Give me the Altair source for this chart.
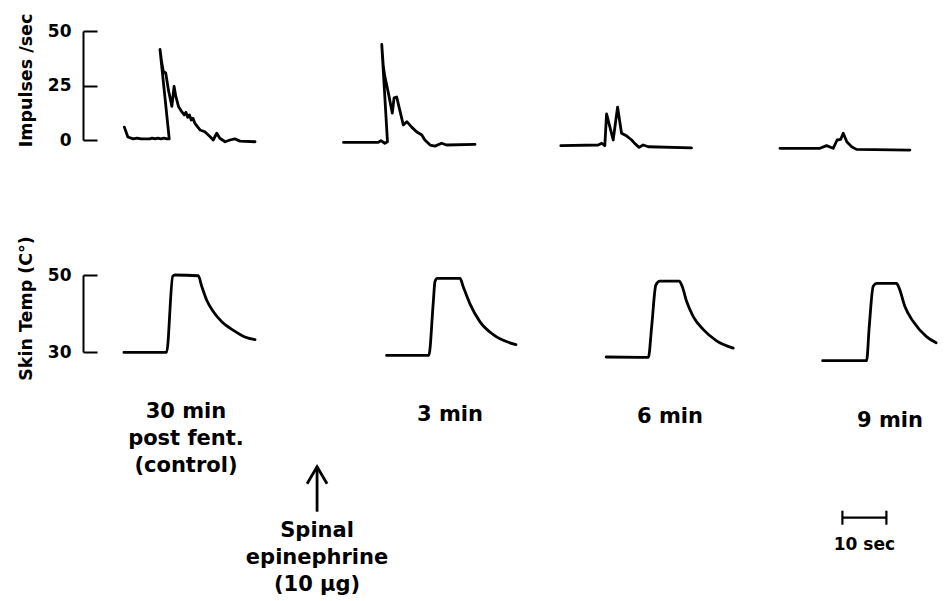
import altair as alt
import pandas as pd

FONT = "DejaVu Sans"

# ---------------- data ----------------
# Impulses/sec traces: time (s, along the recording) and value
imp1_t = [9.4, 10.2, 11.4, 12.3, 13.2, 15.2, 15.7, 16.4, 17.0, 17.7, 18.4, 19.1, 19.6,
          17.5, 17.9, 18.25, 18.8, 19.4, 20.2, 20.7, 21.1, 21.7, 22.4, 23.0, 23.4, 23.8, 24.2, 24.6, 25.0, 25.4, 25.7,
          26.6, 27.7, 28.9, 29.6, 30.4, 31.1, 32.3, 33.4, 34.5, 35.7, 39.1]
imp1_v = [5.9, 1.4, 0.5, 0.9, 0.5, 0.5, 0.9, 0.5, 0.9, 0.5, 0.9, 0.5, 0.5,
          41.6, 35.4, 31.5, 30.8, 23.1, 15.4, 24.6, 20.0, 15.4, 13.1, 11.5, 12.7, 10.4, 11.5, 9.2, 10.0, 7.8, 6.9,
          4.6, 3.8, 1.5, 0.0, 3.1, 0.8, -0.8, 0.0, 0.5, -0.5, -0.8]

imp2_t = [59.2, 67.1, 67.7, 68.6, 69.2, 67.9, 68.25, 68.6, 69.4, 70.3, 70.7, 71.3, 71.8,
          72.8, 73.6, 74.7, 75.8, 77.0, 77.7, 78.9, 80.0, 81.5, 82.6, 89.1]
imp2_v = [-1.1, -1.1, -0.3, -1.5, -0.8, 43.9, 33.8, 29.2, 21.6, 12.3, 19.3, 19.7, 15.4,
          6.9, 8.4, 5.9, 3.8, 2.3, 0.0, -2.3, -2.8, -1.5, -2.3, -2.0]

imp3_t = [108.6, 117.1, 117.9, 118.6, 119.0, 120.5, 121.5, 122.4, 123.6, 124.7, 125.5, 126.4, 127.3, 128.5, 138.3]
imp3_v = [-2.6, -2.3, -1.5, -2.6, 12.0, 0.0, 15.1, 3.1, 1.8, 0.0, -1.8, -3.4, -2.3, -3.1, -3.6]

imp4_t = [158.4, 167.5, 169.0, 170.5, 171.4, 172.2, 172.8, 173.6, 174.7, 175.8, 187.95]
imp4_v = [-3.8, -3.8, -2.6, -3.8, 0.0, 0.3, 3.1, -0.8, -3.1, -4.3, -4.6]

# Skin temperature traces (deg C)
tmp1_t = [9.3, 19.0, 20.4, 20.9, 26.2, 27.0, 28.1, 29.6, 31.5, 34.2, 36.8, 39.1]
tmp1_v = [29.9, 29.9, 49.7, 50.0, 49.8, 47.0, 43.5, 40.5, 37.9, 35.6, 33.9, 33.2]

tmp2_t = [69.0, 78.6, 79.6, 80.0, 80.5, 85.7, 86.4, 87.95, 90.2, 93.25, 98.4]
tmp2_v = [29.1, 29.1, 42.7, 48.3, 49.1, 49.1, 47.0, 42.5, 37.9, 34.5, 31.9]

tmp3_t = [118.9, 128.5, 129.25, 130.2, 131.1, 135.5, 136.2, 137.2, 138.7, 141.0, 144.0, 147.8]
tmp3_v = [28.7, 28.6, 36.6, 47.4, 48.4, 48.4, 47.0, 43.1, 39.2, 35.8, 32.9, 31.0]

tmp4_t = [168.1, 178.1, 178.7, 179.6, 180.4, 184.9, 185.5, 186.8, 188.7, 191.7, 193.9]
tmp4_v = [27.75, 27.75, 36.6, 47.1, 47.8, 47.8, 46.6, 41.8, 37.9, 34.0, 32.4]

imp_ticks = [0, 25, 50]
tmp_ticks = [30, 50]

panel_names = ["30 min post fent. (control)", "3 min", "6 min", "9 min"]
time_labels = ["30 min\npost fent.\n(control)", "3 min", "6 min", "9 min"]
drug_label = "Spinal\nepinephrine\n(10 μg)"
scale_label = "10 sec"
scale_bar_len = 10  # seconds

# ---------------- layout (annotation placement) ----------------
label_t = [23.4, 83.4, 133.4, 183.4]
label_py = [-69.3, -65.6, -64.3, -60.3]
drug_t, drug_py = 53.2, 49.7
arrow_tip_py, arrow_end_py = -20.3, 24.7
bar_t0, bar_py, cap_half = 172.6, 30.7, 7
scale_label_py = 62.7

W = 854
XDOM = [0, 194.1]


def trace_df(series):
    rows = []
    for name, ts, vs in series:
        for i, (t, v) in enumerate(zip(ts, vs)):
            rows.append({"panel": name, "t": t, "v": v, "i": i})
    return pd.DataFrame(rows)


imp_df = trace_df(zip(panel_names, [imp1_t, imp2_t, imp3_t, imp4_t], [imp1_v, imp2_v, imp3_v, imp4_v]))
tmp_df = trace_df(zip(panel_names, [tmp1_t, tmp2_t, tmp3_t, tmp4_t], [tmp1_v, tmp2_v, tmp3_v, tmp4_v]))

xscale = alt.Scale(domain=XDOM, nice=False, zero=False)
xenc = alt.X("t:Q", scale=xscale, axis=None)


def row_chart(df, dom, ticks, title, title_y, height, interp):
    yscale = alt.Scale(domain=dom, nice=False, zero=False)
    lines = alt.Chart(df).mark_line(
        color="black", strokeWidth=2.8, strokeJoin="round", strokeCap="round", interpolate=interp
    ).encode(
        x=xenc,
        y=alt.Y("v:Q", scale=yscale,
                axis=alt.Axis(orient="left", domain=True, domainColor="black", domainWidth=2,
                              ticks=False, labels=False, grid=False, title=None)),
        detail="panel:N",
        order="i:Q",
    )
    tick_layer = alt.Chart(pd.DataFrame({"v": ticks})).mark_point(opacity=0).encode(
        y=alt.Y("v:Q", scale=yscale,
                axis=alt.Axis(orient="left", values=ticks, domain=False, ticks=True, tickSize=14,
                              tickWidth=2, tickColor="black", offset=-14, labelPadding=12,
                              labelFont=FONT, labelFontSize=17, labelFontWeight="bold",
                              labelColor="black", grid=False,
                              title=title, titleFont=FONT, titleFontSize=17.5, titleY=title_y,
                              titleFontWeight="bold", titleColor="black", titlePadding=12))
    )
    return alt.layer(lines, tick_layer).resolve_axis(y="independent").properties(width=W, height=height)


top = row_chart(imp_df, [0, 50], imp_ticks, "Impulses /sec", 49, 109, "linear")
bottom = row_chart(tmp_df, [30, 50], tmp_ticks, "Skin Temp (C°)", 33, 77, "monotone")

yident = lambda f: alt.Y(f, scale=None, axis=None)

lab_df = pd.DataFrame({"text": time_labels + [drug_label], "t": label_t + [drug_t], "py": label_py + [drug_py]})
labels = alt.Chart(lab_df).mark_text(
    font=FONT, fontSize=21, fontWeight="bold", lineBreak="\n", lineHeight=27,
    align="center", baseline="alphabetic", color="black"
).encode(x=xenc, y=yident("py:Q"), text="text:N")

arrow_df = pd.DataFrame({"t": [drug_t], "py": [arrow_tip_py], "py2": [arrow_end_py]})
shaft = alt.Chart(arrow_df).mark_rule(color="black", strokeWidth=2.8).encode(
    x=xenc, y=yident("py:Q"), y2="py2:Q")
head = alt.Chart(arrow_df).mark_point(
    shape="M-1,1.7L0,0L1,1.7", filled=False, size=400, stroke="black", strokeWidth=2.8, opacity=1
).encode(x=xenc, y=yident("py:Q"))

bar_df = pd.DataFrame({"t": [bar_t0], "t2": [bar_t0 + scale_bar_len], "py": [bar_py]})
bar = alt.Chart(bar_df).mark_rule(color="black", strokeWidth=2.2).encode(
    x=xenc, x2="t2:Q", y=yident("py:Q"))
caps_df = pd.DataFrame({"t": [bar_t0, bar_t0 + scale_bar_len],
                        "py": [bar_py - cap_half] * 2, "py2": [bar_py + cap_half] * 2})
caps = alt.Chart(caps_df).mark_rule(color="black", strokeWidth=2.2).encode(
    x=xenc, y=yident("py:Q"), y2="py2:Q")
sl_df = pd.DataFrame({"text": [scale_label], "t": [bar_t0 + scale_bar_len / 2], "py": [scale_label_py]})
slab = alt.Chart(sl_df).mark_text(
    font=FONT, fontSize=17, fontWeight="bold", align="center", baseline="alphabetic", color="black"
).encode(x=xenc, y=yident("py:Q"), text="text:N")

ann = alt.layer(labels, shaft, head, bar, caps, slab).properties(width=W, height=90)

chart = alt.vconcat(top, bottom, ann, spacing=135, bounds="flush").properties(
    padding={"left": 9, "top": 5, "right": 0, "bottom": 0},
    background="white",
).configure_view(stroke=None)

chart.save("out.html", embed_options={"renderer": "svg", "actions": False})
